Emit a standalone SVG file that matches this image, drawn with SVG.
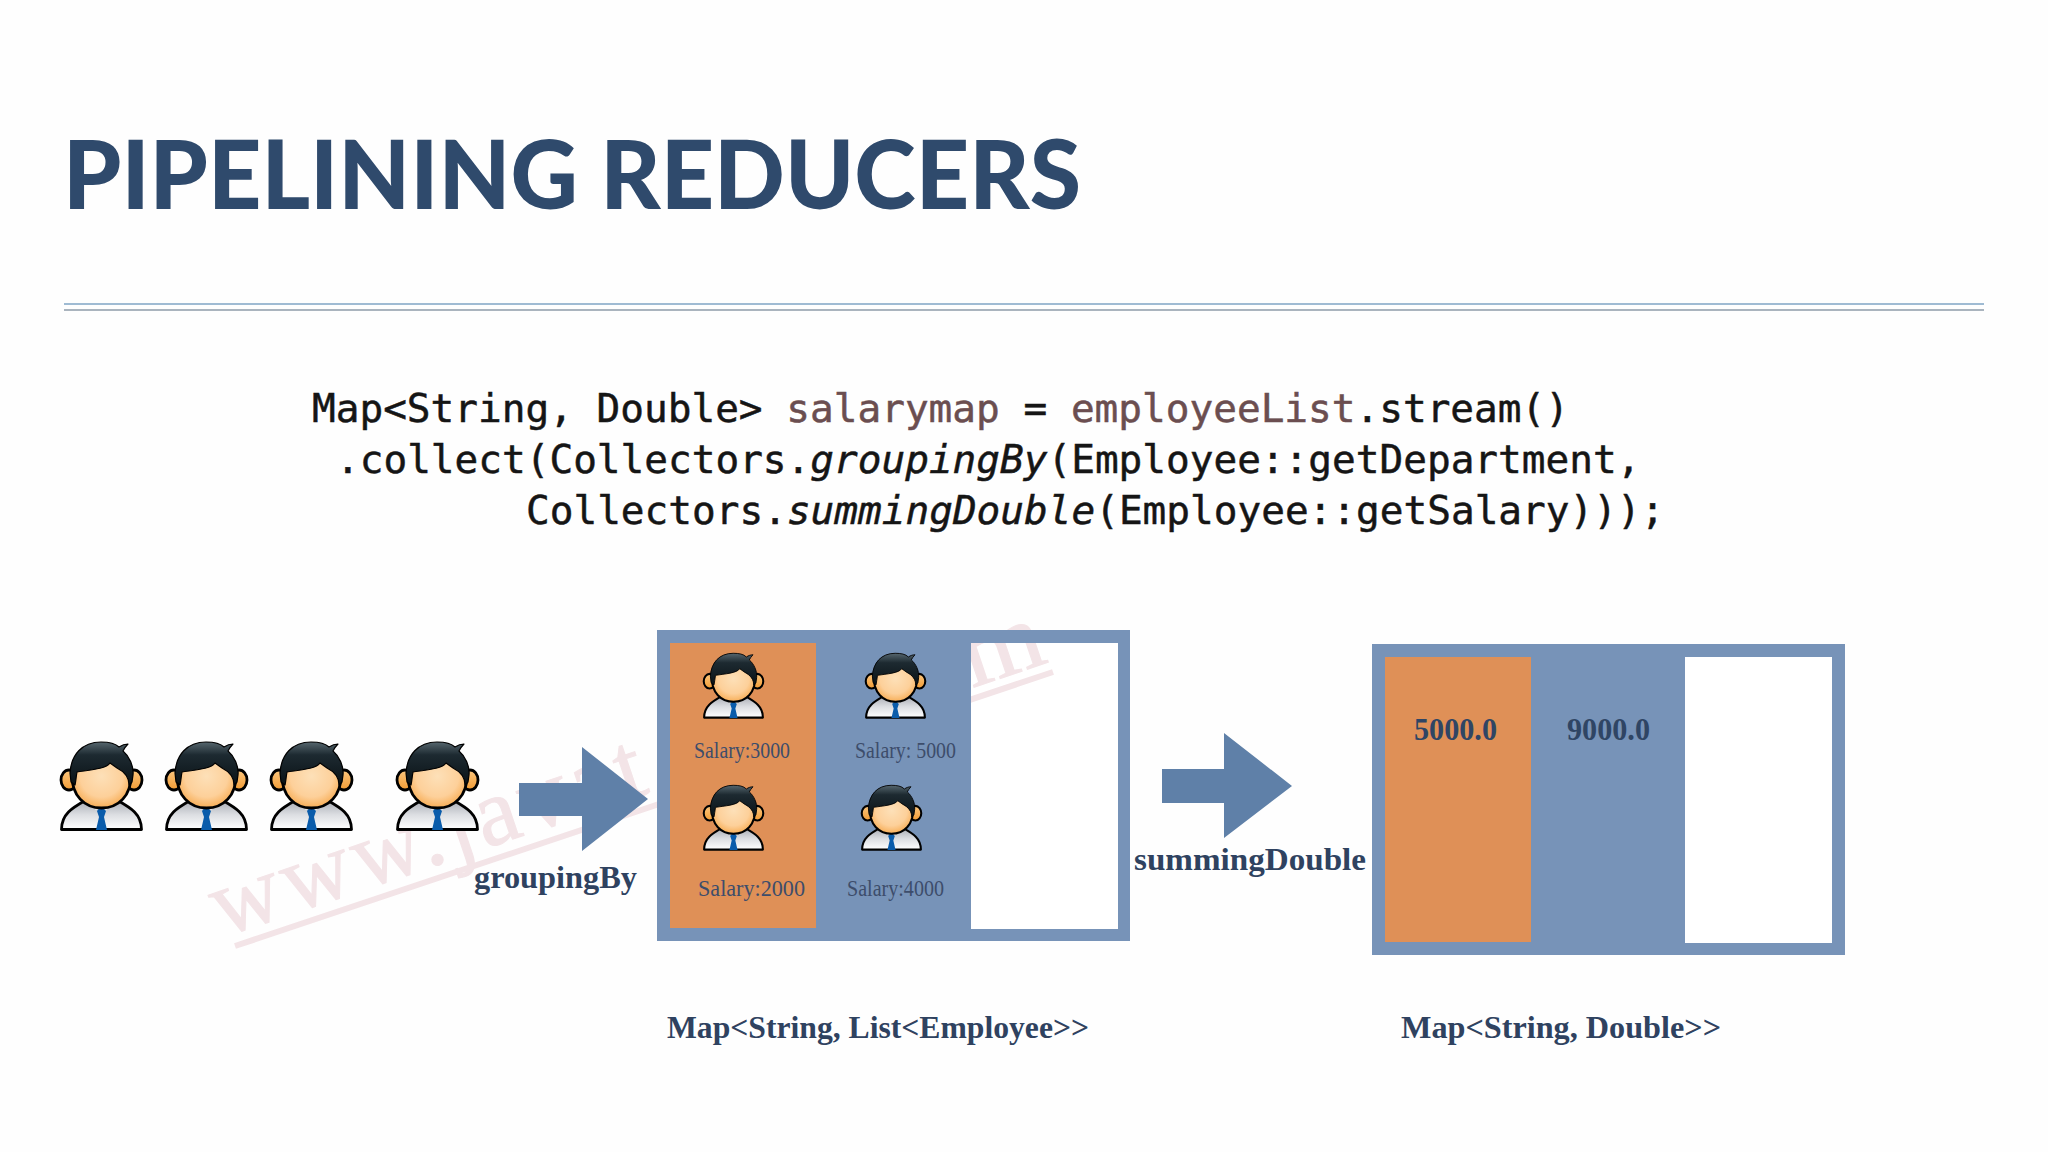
<svg xmlns="http://www.w3.org/2000/svg" width="2048" height="1152" viewBox="0 0 2048 1152">
<style>
.title{font:900 96px Lato,"Liberation Sans",sans-serif;fill:#2f4a6c}
.code{font:39.4px "DejaVu Sans Mono","Liberation Mono",monospace;fill:#151515;stroke:#151515;stroke-width:.5px}
.code .v{fill:#6b4e50;stroke:#6b4e50}
.code .i{font-style:italic}
.lab{font:700 32px "Liberation Serif",serif;fill:#2f4260}
.sal{font:400 23px "Liberation Serif",serif;fill:#3d4d6b}
.val{font:700 32px "Liberation Serif",serif;fill:#2f4564}
.wm{font:400 96px "Liberation Serif",serif;fill:#f3e4e7;stroke:#f3e4e7;stroke-width:1px;letter-spacing:5px}
.frame{fill:#7793b8}
.or{fill:#df9057}
.arrow{fill:#5f80a8}
</style>
<defs>
<radialGradient id="face" cx=".5" cy=".45" r=".6"><stop offset="0" stop-color="#fde0b8"/><stop offset=".6" stop-color="#fdd09a"/><stop offset="1" stop-color="#f6a545"/></radialGradient>
<linearGradient id="ear" x1="0" y1="0" x2="0" y2="1"><stop offset="0" stop-color="#fbc67e"/><stop offset="1" stop-color="#f29c35"/></linearGradient>
<linearGradient id="shirt" x1="0" y1="0" x2="0" y2="1"><stop offset="0" stop-color="#a7aab2"/><stop offset=".5" stop-color="#dcdee2"/><stop offset="1" stop-color="#ffffff"/></linearGradient>
<linearGradient id="hair" x1="0" y1="0" x2="0" y2="1"><stop offset="0" stop-color="#56666e"/><stop offset=".3" stop-color="#1d2a31"/><stop offset="1" stop-color="#0a1216"/></linearGradient>
<symbol id="person" viewBox="0 0 83 89" overflow="visible">
<path d="M1.500 87.500C1.500 72 12 66 26 58L57 58C71 66 81.500 72 81.500 87.500Z" fill="url(#shirt)" stroke="#000" stroke-width="2.800" stroke-linejoin="round"/>
<path d="M26 58L36 68L41 63L46 68L57 58L50 54H33Z" fill="#f4f5f7"/>
<path d="M37 69L41 64L46 69L44 75L47 88H36L39 75Z" fill="#0a5cab"/>
<ellipse cx="9" cy="38" rx="8" ry="10" fill="url(#ear)" stroke="#000" stroke-width="2.800"/>
<ellipse cx="74" cy="38" rx="8" ry="10" fill="url(#ear)" stroke="#000" stroke-width="2.800"/>
<path d="M12 31C11 54 25 66 41.500 66C58 66 72 54 71 31C70 15 55 8 41.500 8C28 8 13 15 12 31Z" fill="url(#face)" stroke="#000" stroke-width="2.800"/>
<path d="M11 40L10 31C11 13 22 0 41 0C49 0 55 1 59 5C62 3 65 2 68 2C66 4 64 7 63 9C69 14 74 24 73 33L72 40L69 43C69 36 65 30 57 26L50 21C46 27 30 28 17 30C16 35 16 39 15 43Z" fill="url(#hair)" stroke="#000" stroke-width="1.200" stroke-linejoin="round"/>
</symbol>
</defs>
<rect id="background" width="2048" height="1152" fill="#fefefe"/>
<text class="title" x="63" y="209" textLength="1018" lengthAdjust="spacingAndGlyphs">PIPELINING REDUCERS</text>
<g id="rule"><rect x="64" y="303" width="1920" height="2" fill="#9fbbd3"/><rect x="64" y="309" width="1920" height="2" fill="#aab4be"/></g>
<g id="code" class="code">
<text x="312" y="422">Map&lt;String, Double&gt; <tspan class="v">salarymap</tspan> = <tspan class="v">employeeList</tspan>.stream()</text>
<text x="336" y="473">.collect(Collectors.<tspan class="i">groupingBy</tspan>(Employee::getDepartment,</text>
<text x="526" y="524">Collectors.<tspan class="i">summingDouble</tspan>(Employee::getSalary)));</text>
</g>
<g id="watermark-back"><rect x="971" y="643" width="147" height="286" fill="#fff"/>
<text class="wm" transform="translate(222,937) rotate(-18.600)">www.javat</text>
<text class="wm" transform="translate(972,688) rotate(-18.600) scale(1.100,1)">m</text>
<line x1="235" y1="946" x2="1053" y2="672" stroke="#f3e4e7" stroke-width="6"/></g>
<g id="employees">
<use href="#person" x="60" y="742" width="83" height="89"/>
<use href="#person" x="165" y="742" width="83" height="89"/>
<use href="#person" x="270" y="742" width="83" height="89"/>
<use href="#person" x="396" y="742" width="83" height="89"/>
</g>
<g id="connectors">
<path class="arrow" d="M519 783H582V747L648 799L582 851V816H519Z"/>
<path class="arrow" d="M1162 769H1224V733L1292 786L1224 838V803H1162Z"/>
</g>
<text class="lab" x="474" y="888" textLength="163" lengthAdjust="spacingAndGlyphs">groupingBy</text>
<text class="lab" x="1134" y="870" textLength="232" lengthAdjust="spacingAndGlyphs">summingDouble</text>
<g id="map-list">
<path class="frame" fill-rule="evenodd" d="M657 630H1130V941H657ZM971 643V929H1118V643Z"/>
<rect class="or" x="670" y="643" width="146" height="285"/>
<use href="#person" x="703" y="653" width="61" height="66"/>
<use href="#person" x="865" y="653" width="61" height="66"/>
<use href="#person" x="703" y="785" width="61" height="66"/>
<use href="#person" x="861" y="785" width="61" height="66"/>
<text class="sal" x="694" y="758" textLength="96" lengthAdjust="spacingAndGlyphs">Salary:3000</text>
<text class="sal" x="855" y="758" textLength="101" lengthAdjust="spacingAndGlyphs">Salary: 5000</text>
<text class="sal" x="698" y="896" textLength="107" lengthAdjust="spacingAndGlyphs">Salary:2000</text>
<text class="sal" x="847" y="896" textLength="97" lengthAdjust="spacingAndGlyphs">Salary:4000</text>
</g>
<g id="map-double">
<path class="frame" fill-rule="evenodd" d="M1372 644H1845V955H1372ZM1685 657V943H1832V657Z"/>
<rect x="1685" y="657" width="147" height="286" fill="#fff"/>
<rect class="or" x="1385" y="657" width="146" height="285"/>
<text class="val" x="1414" y="740" textLength="83" lengthAdjust="spacingAndGlyphs">5000.0</text>
<text class="val" x="1567" y="740" textLength="83" lengthAdjust="spacingAndGlyphs">9000.0</text>
</g>
<text class="lab" x="667" y="1038" textLength="422" lengthAdjust="spacingAndGlyphs">Map&lt;String, List&lt;Employee&gt;&gt;</text>
<text class="lab" x="1401" y="1038" textLength="320" lengthAdjust="spacingAndGlyphs">Map&lt;String, Double&gt;&gt;</text>
</svg>
